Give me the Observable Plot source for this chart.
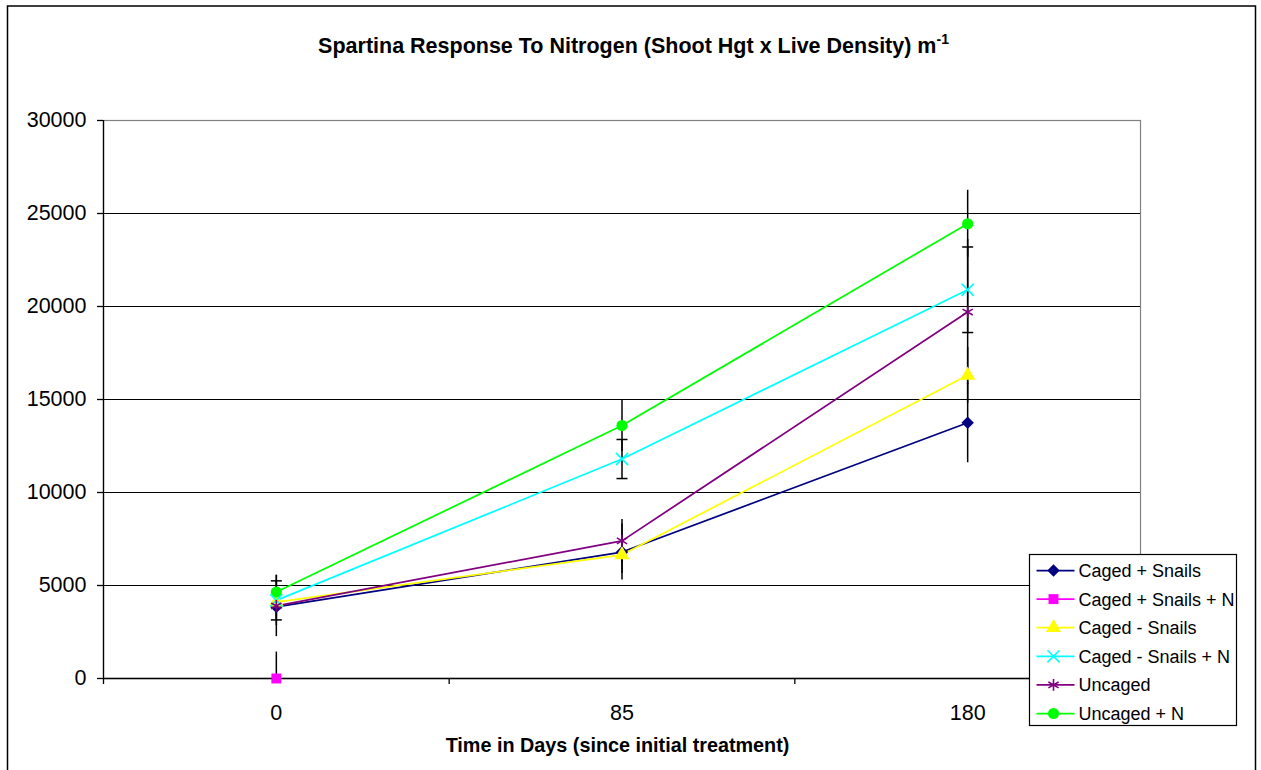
<!DOCTYPE html>
<html>
<head>
<meta charset="utf-8">
<script src="https://cdn.jsdelivr.net/npm/d3@7"></script>
<script src="https://cdn.jsdelivr.net/npm/@observablehq/plot@0.6"></script>
<style>
  html, body { margin: 0; padding: 0; background: #fff; }
  svg { display: block; }
</style>
</head>
<body>
<div id="chart"></div>
<script>
// ---- Data ----
const times = ["0", "85", "180"];
const seriesNames = ["Caged + Snails", "Caged + Snails + N", "Caged - Snails", "Caged - Snails + N", "Uncaged", "Uncaged + N"];
const seriesColors = ["#000080", "#FF00FF", "#FFFF00", "#00FFFF", "#800080", "#00FF00"];
const seriesSymbols = ["diamond2", "square", "triangle", "times", "asterisk", "circle"];
const seriesFilled = [true, true, true, false, false, true];

const cagedSnails       = [3850, 6800, 13750];
const cagedSnailsN      = [0, null, null];
const cagedNoSnails     = [4100, 6650, 16300];
const cagedNoSnailsN    = [4200, 11800, 20900];
const uncaged           = [3900, 7400, 19700];
const uncagedN          = [4650, 13600, 24450];

const errCagedSnails    = [1000, 1500, 2150];
const errCagedSnailsN   = [1420, null, null];
const errCagedNoSnails  = [800, 1000, 1500];
const errCagedNoSnailsN = [1050, 1050, 2300];
const errUncaged        = [1650, 1150, 3900];
const errUncagedN       = [900, 1400, 1800];

const cappedSeries = ["Caged - Snails + N"];
const yTicks = [0, 5000, 10000, 15000, 20000, 25000, 30000];

const values = [cagedSnails, cagedSnailsN, cagedNoSnails, cagedNoSnailsN, uncaged, uncagedN];
const errors = [errCagedSnails, errCagedSnailsN, errCagedNoSnails, errCagedNoSnailsN, errUncaged, errUncagedN];

const rows = [];
seriesNames.forEach((s, k) => {
  values[k].forEach((v, i) => {
    if (v != null) rows.push({series: s, k, i, value: v, err: errors[k][i]});
  });
});

const capSymbol = {
  draw(context, size) {
    const w = 5.5;
    context.moveTo(-w, 0);
    context.lineTo(w, 0);
  }
};

const font = "'Liberation Sans', Arial, sans-serif";
const W = 1261, H = 770;
const mL = 103, mR = 121, mT = 120, mB = 92;
const markR = 5.6;

const bounds = d3.range(times.length + 1).map(i => i - 0.5);

const svg = Plot.plot({
  width: W, height: H,
  marginLeft: mL, marginRight: mR, marginTop: mT, marginBottom: mB,
  style: {fontFamily: font, background: "#fff", overflow: "visible"},
  x: {type: "linear", domain: [-0.5, times.length - 0.5], axis: null},
  y: {domain: [0, 30000], axis: null},
  color: {domain: seriesNames, range: seriesColors},
  symbol: {domain: seriesNames, range: seriesSymbols},
  marks: [
    Plot.frame({stroke: "#808080", strokeWidth: 1.2}),
    Plot.ruleY(yTicks.slice(1, -1), {stroke: "#000", strokeWidth: 1}),
    Plot.ruleX([bounds[0]], {stroke: "#000", strokeWidth: 1.3}),
    Plot.ruleY([0], {stroke: "#000", strokeWidth: 1.3}),
    Plot.axisY({ticks: yTicks, tickSize: 6, tickPadding: 11, tickFormat: d => String(d),
      fontSize: 21.5, stroke: "#000", strokeWidth: 1.3, fill: "#000", label: null}),
    Plot.axisX({ticks: d3.range(times.length), tickSize: 0, tickPadding: 26,
      tickFormat: i => times[i], fontSize: 21.5, fill: "#000", label: null}),
    Plot.axisX({ticks: bounds, tickSize: 6, tickFormat: () => "", stroke: "#000", strokeWidth: 1.3, label: null}),
    Plot.line(rows, {x: "i", y: "value", z: "series", stroke: "series", strokeWidth: 1.75}),
    Plot.ruleX(rows.filter(d => d.err != null), {
      x: "i", y1: d => Math.max(0, d.value - d.err), y2: d => d.value + d.err,
      stroke: "#000", strokeWidth: 1.5
    }),
    Plot.dot(rows.filter(d => cappedSeries.includes(d.series)).flatMap(d => [
      {i: d.i, y: d.value + d.err}, {i: d.i, y: Math.max(0, d.value - d.err)}
    ]), {x: "i", y: "y", symbol: () => capSymbol, stroke: "#000", strokeWidth: 1.5, r: 5}),
    Plot.dot(rows.filter(d => seriesFilled[d.k]), {x: "i", y: "value", symbol: "series", fill: "series", stroke: "none", r: markR}),
    Plot.dot(rows.filter(d => !seriesFilled[d.k]), {x: "i", y: "value", symbol: "series", stroke: "series", fill: "none", strokeWidth: 1.6, r: markR})
  ]
});

const s = d3.select(svg);

// outer chart border
s.append("rect").attr("x", 7.5).attr("y", 6).attr("width", 1248).attr("height", 800)
  .attr("fill", "none").attr("stroke", "#000").attr("stroke-width", 1.5);

// title
const title = s.append("text").attr("x", W / 2 + 3).attr("y", 53).attr("text-anchor", "middle")
  .attr("font-family", font).attr("font-weight", "bold").attr("font-size", 21.5).attr("fill", "#000");
title.append("tspan").text("Spartina Response To Nitrogen (Shoot Hgt x Live Density) m");
title.append("tspan").attr("font-size", 14).attr("dy", -9).text("-1");

// x axis title
s.append("text").attr("x", (mL + W - mR) / 2 - 4).attr("y", 752).attr("text-anchor", "middle")
  .attr("font-family", font).attr("font-weight", "bold").attr("font-size", 19.8).attr("fill", "#000")
  .text("Time in Days (since initial treatment)");

// legend
const lg = s.append("g").attr("transform", "translate(1029.5,554.5)");
lg.append("rect").attr("width", 207).attr("height", 171).attr("fill", "#fff")
  .attr("stroke", "#000").attr("stroke-width", 1.2);
const d3Sym = {diamond2: d3.symbolDiamond2, square: d3.symbolSquare, triangle: d3.symbolTriangle,
  times: d3.symbolTimes, asterisk: d3.symbolAsterisk, circle: d3.symbolCircle};
seriesNames.forEach((name, k) => {
  const cy = 16 + k * 28.6;
  const g = lg.append("g").attr("transform", `translate(0,${cy})`);
  g.append("line").attr("x1", 7).attr("x2", 45).attr("y1", 0).attr("y2", 0)
    .attr("stroke", seriesColors[k]).attr("stroke-width", 1.75);
  const p = g.append("path").attr("transform", "translate(24,0)")
    .attr("d", d3.symbol(d3Sym[seriesSymbols[k]], markR * markR * Math.PI)());
  if (seriesFilled[k]) p.attr("fill", seriesColors[k]);
  else p.attr("fill", "none").attr("stroke", seriesColors[k]).attr("stroke-width", 1.6);
  g.append("text").attr("x", 49).attr("y", 6.5).attr("text-anchor", "start")
    .attr("font-family", font).attr("font-size", 18)
    .attr("fill", "#000").text(name);
});

document.getElementById("chart").appendChild(svg);
</script>
</body>
</html>
